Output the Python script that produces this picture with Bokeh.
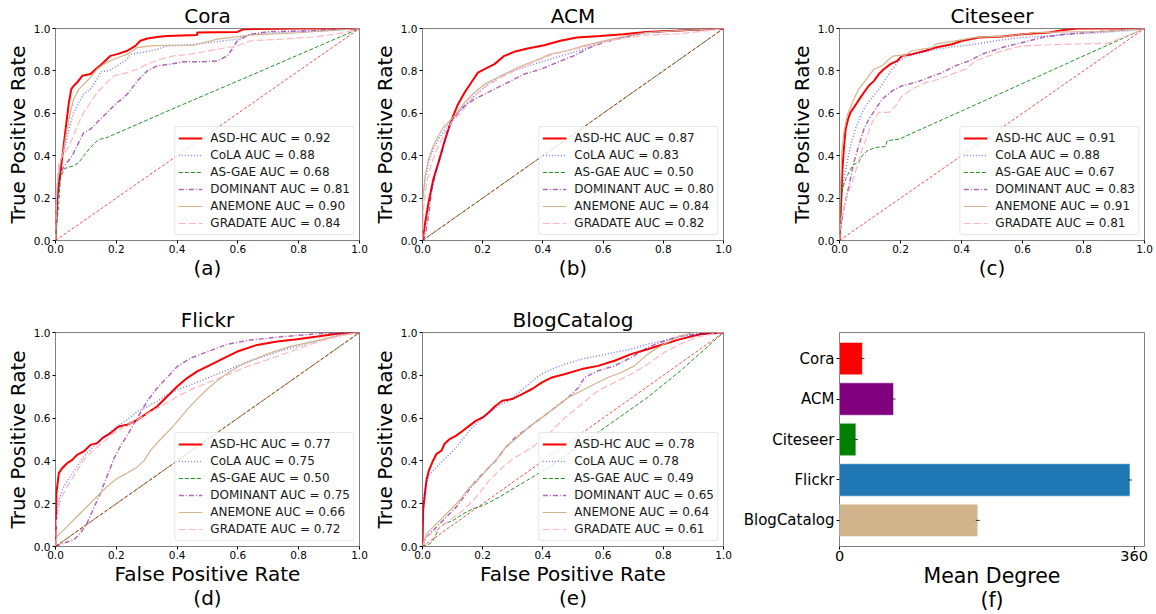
from bokeh.plotting import figure
from bokeh.models import (Range1d, FactorRange, Legend, LegendItem,
                          FixedTicker, PrintfTickFormatter, ColumnDataSource)
from bokeh.layouts import row, column
from bokeh.embed import file_html
from bokeh.resources import INLINE

FONT = "DejaVu Sans"

# ---------------- data ----------------
methods = ["ASD-HC", "CoLA", "AS-GAE", "DOMINANT", "ANEMONE", "GRADATE"]
roc_ticks = [0.0, 0.2, 0.4, 0.6, 0.8, 1.0]
chance_line = [0.0, 1.0]

cora_auc = [0.92, 0.88, 0.68, 0.81, 0.90, 0.84]
acm_auc = [0.87, 0.83, 0.50, 0.80, 0.84, 0.82]
citeseer_auc = [0.91, 0.88, 0.67, 0.83, 0.91, 0.81]
flickr_auc = [0.77, 0.75, 0.50, 0.75, 0.66, 0.72]
blog_auc = [0.78, 0.78, 0.49, 0.65, 0.64, 0.61]

# Cora
cora_asd_hc_fpr = [0.0, 0.005, 0.016, 0.027, 0.036, 0.044, 0.052, 0.06, 0.071, 0.088, 0.115, 0.132, 0.148, 0.181, 0.203, 0.236, 0.263, 0.279, 0.302, 0.334, 0.367, 0.466, 0.466, 0.598, 0.62, 0.8, 1.0]
cora_asd_hc_tpr = [0.0, 0.195, 0.32, 0.45, 0.557, 0.65, 0.714, 0.73, 0.745, 0.777, 0.785, 0.808, 0.827, 0.871, 0.879, 0.895, 0.918, 0.942, 0.953, 0.96, 0.965, 0.969, 0.981, 0.984, 0.997, 1.0, 1.0]
cora_cola_fpr = [0.0, 0.005, 0.011, 0.022, 0.033, 0.044, 0.06, 0.077, 0.093, 0.115, 0.137, 0.148, 0.175, 0.203, 0.236, 0.247, 0.29, 0.334, 0.367, 0.422, 0.477, 0.51, 0.598, 0.64, 0.7, 0.8, 0.9, 1.0]
cora_cola_tpr = [0.0, 0.148, 0.32, 0.40, 0.447, 0.525, 0.604, 0.651, 0.69, 0.714, 0.761, 0.796, 0.80, 0.824, 0.855, 0.879, 0.888, 0.902, 0.918, 0.921, 0.929, 0.934, 0.95, 0.973, 0.978, 0.985, 0.99, 1.0]
cora_as_gae_fpr = [0.0, 0.005, 0.011, 0.016, 0.027, 0.038, 0.06, 0.077, 0.093, 0.115, 0.137, 0.148, 0.17, 0.4, 0.64, 1.0]
cora_as_gae_tpr = [0.0, 0.085, 0.179, 0.289, 0.336, 0.344, 0.352, 0.368, 0.40, 0.439, 0.47, 0.478, 0.486, 0.63, 0.777, 1.0]
cora_dominant_fpr = [0.0, 0.005, 0.011, 0.022, 0.038, 0.055, 0.071, 0.093, 0.115, 0.137, 0.159, 0.181, 0.203, 0.219, 0.241, 0.269, 0.302, 0.334, 0.378, 0.422, 0.477, 0.532, 0.565, 0.581, 0.598, 0.641, 0.7, 0.85, 1.0]
cora_dominant_tpr = [0.0, 0.148, 0.289, 0.336, 0.368, 0.40, 0.447, 0.509, 0.525, 0.557, 0.588, 0.62, 0.651, 0.667, 0.698, 0.753, 0.80, 0.824, 0.832, 0.843, 0.843, 0.847, 0.871, 0.902, 0.942, 0.973, 0.985, 0.99, 1.0]
cora_anemone_fpr = [0.0, 0.003, 0.008, 0.016, 0.027, 0.038, 0.049, 0.06, 0.077, 0.093, 0.115, 0.137, 0.159, 0.192, 0.236, 0.269, 0.313, 0.367, 0.455, 0.532, 0.641, 0.8, 1.0]
cora_anemone_tpr = [0.0, 0.195, 0.289, 0.368, 0.43, 0.525, 0.604, 0.667, 0.714, 0.737, 0.769, 0.808, 0.832, 0.855, 0.879, 0.91, 0.918, 0.921, 0.921, 0.95, 0.969, 0.98, 1.0]
cora_gradate_fpr = [0.0, 0.003, 0.011, 0.022, 0.038, 0.055, 0.071, 0.093, 0.115, 0.137, 0.164, 0.192, 0.236, 0.269, 0.302, 0.345, 0.389, 0.444, 0.532, 0.598, 0.641, 0.75, 0.85, 0.95, 1.0]
cora_gradate_tpr = [0.0, 0.242, 0.368, 0.40, 0.43, 0.478, 0.541, 0.604, 0.651, 0.698, 0.737, 0.777, 0.792, 0.808, 0.832, 0.855, 0.871, 0.879, 0.902, 0.918, 0.942, 0.95, 0.96, 0.98, 1.0]

# ACM
acm_asd_hc_fpr = [0.0, 0.009, 0.02, 0.036, 0.053, 0.069, 0.086, 0.102, 0.118, 0.14, 0.162, 0.184, 0.206, 0.239, 0.272, 0.305, 0.349, 0.404, 0.458, 0.513, 0.59, 0.667, 0.743, 0.85, 1.0]
acm_asd_hc_tpr = [0.0, 0.085, 0.179, 0.289, 0.368, 0.447, 0.525, 0.588, 0.643, 0.698, 0.745, 0.792, 0.808, 0.832, 0.871, 0.89, 0.906, 0.921, 0.942, 0.958, 0.965, 0.973, 0.984, 0.99, 1.0]
acm_cola_fpr = [0.0, 0.0, 0.009, 0.02, 0.036, 0.053, 0.075, 0.096, 0.118, 0.151, 0.184, 0.217, 0.261, 0.316, 0.371, 0.425, 0.48, 0.535, 0.59, 0.645, 0.7, 0.743, 0.85, 1.0]
acm_cola_tpr = [0.0, 0.195, 0.289, 0.368, 0.43, 0.478, 0.525, 0.564, 0.604, 0.651, 0.698, 0.737, 0.777, 0.808, 0.832, 0.855, 0.879, 0.902, 0.937, 0.953, 0.969, 0.981, 0.99, 1.0]
acm_as_gae_fpr = [0.0, 1.0]
acm_as_gae_tpr = [0.0, 1.0]
acm_dominant_fpr = [0.0, 0.009, 0.02, 0.031, 0.047, 0.064, 0.08, 0.096, 0.118, 0.14, 0.173, 0.206, 0.25, 0.294, 0.338, 0.393, 0.447, 0.502, 0.557, 0.601, 0.667, 0.743, 0.85, 1.0]
acm_dominant_tpr = [0.0, 0.022, 0.116, 0.242, 0.336, 0.415, 0.509, 0.557, 0.604, 0.635, 0.667, 0.69, 0.722, 0.753, 0.785, 0.808, 0.84, 0.871, 0.91, 0.934, 0.958, 0.981, 0.99, 1.0]
acm_anemone_fpr = [0.0, 0.0, 0.009, 0.02, 0.036, 0.053, 0.069, 0.086, 0.107, 0.14, 0.173, 0.206, 0.261, 0.316, 0.371, 0.425, 0.48, 0.535, 0.59, 0.667, 0.743, 0.85, 1.0]
acm_anemone_tpr = [0.0, 0.18, 0.305, 0.384, 0.447, 0.494, 0.533, 0.557, 0.588, 0.651, 0.698, 0.737, 0.777, 0.816, 0.847, 0.879, 0.895, 0.918, 0.937, 0.962, 0.981, 0.99, 1.0]
acm_gradate_fpr = [0.0, 0.003, 0.014, 0.031, 0.053, 0.075, 0.096, 0.129, 0.162, 0.206, 0.261, 0.316, 0.371, 0.425, 0.48, 0.557, 0.645, 0.743, 0.85, 0.95, 1.0]
acm_gradate_tpr = [0.0, 0.148, 0.274, 0.368, 0.447, 0.509, 0.557, 0.604, 0.667, 0.722, 0.769, 0.808, 0.843, 0.874, 0.895, 0.921, 0.95, 0.969, 0.975, 0.99, 1.0]

# Citeseer
cite_asd_hc_fpr = [0.0, 0.003, 0.009, 0.014, 0.02, 0.028, 0.036, 0.047, 0.058, 0.069, 0.08, 0.096, 0.113, 0.129, 0.145, 0.167, 0.189, 0.205, 0.238, 0.282, 0.315, 0.369, 0.402, 0.457, 0.533, 0.599, 0.686, 0.741, 0.78, 1.0]
cite_asd_hc_tpr = [0.0, 0.085, 0.32, 0.43, 0.525, 0.572, 0.604, 0.627, 0.651, 0.675, 0.698, 0.73, 0.753, 0.785, 0.808, 0.832, 0.847, 0.871, 0.879, 0.895, 0.91, 0.926, 0.942, 0.958, 0.962, 0.973, 0.981, 0.994, 1.0, 1.0]
cite_cola_fpr = [0.0, 0.003, 0.014, 0.025, 0.036, 0.052, 0.069, 0.085, 0.107, 0.129, 0.151, 0.173, 0.195, 0.227, 0.271, 0.315, 0.38, 0.446, 0.511, 0.599, 0.686, 0.741, 0.85, 0.95, 1.0]
cite_cola_tpr = [0.0, 0.164, 0.289, 0.368, 0.447, 0.525, 0.588, 0.635, 0.675, 0.714, 0.761, 0.808, 0.847, 0.871, 0.887, 0.902, 0.915, 0.926, 0.942, 0.958, 0.965, 0.973, 0.98, 0.99, 1.0]
cite_as_gae_fpr = [0.0, 0.003, 0.009, 0.02, 0.036, 0.047, 0.063, 0.074, 0.091, 0.118, 0.151, 0.156, 0.178, 0.195, 0.45, 0.741, 1.0]
cite_as_gae_tpr = [0.0, 0.148, 0.242, 0.289, 0.336, 0.36, 0.368, 0.40, 0.423, 0.439, 0.443, 0.47, 0.475, 0.478, 0.643, 0.832, 1.0]
cite_dominant_fpr = [0.0, 0.003, 0.014, 0.031, 0.047, 0.063, 0.08, 0.096, 0.118, 0.14, 0.173, 0.205, 0.249, 0.293, 0.337, 0.38, 0.424, 0.468, 0.533, 0.599, 0.664, 0.741, 0.85, 1.0]
cite_dominant_tpr = [0.0, 0.053, 0.148, 0.258, 0.368, 0.447, 0.525, 0.572, 0.62, 0.667, 0.706, 0.73, 0.745, 0.769, 0.792, 0.824, 0.847, 0.879, 0.91, 0.934, 0.958, 0.973, 0.985, 1.0]
cite_anemone_fpr = [0.0, 0.001, 0.007, 0.014, 0.025, 0.036, 0.047, 0.063, 0.08, 0.096, 0.113, 0.14, 0.162, 0.178, 0.216, 0.238, 0.304, 0.315, 0.38, 0.446, 0.555, 0.643, 0.741, 0.87, 1.0]
cite_anemone_tpr = [0.0, 0.148, 0.40, 0.509, 0.588, 0.627, 0.667, 0.714, 0.745, 0.777, 0.808, 0.824, 0.855, 0.871, 0.874, 0.895, 0.91, 0.926, 0.942, 0.958, 0.965, 0.981, 0.984, 0.985, 1.0]
cite_gradate_fpr = [0.0, 0.003, 0.014, 0.025, 0.042, 0.058, 0.074, 0.091, 0.107, 0.129, 0.162, 0.184, 0.205, 0.238, 0.282, 0.326, 0.369, 0.413, 0.446, 0.49, 0.533, 0.599, 0.741, 0.88, 0.95, 1.0]
cite_gradate_tpr = [0.0, 0.085, 0.148, 0.211, 0.274, 0.352, 0.43, 0.494, 0.557, 0.604, 0.604, 0.635, 0.682, 0.714, 0.745, 0.761, 0.785, 0.808, 0.847, 0.871, 0.895, 0.918, 0.926, 0.93, 0.97, 1.0]

# Flickr
flickr_asd_hc_fpr = [0.0, 0.003, 0.011, 0.022, 0.038, 0.055, 0.071, 0.093, 0.115, 0.137, 0.154, 0.181, 0.208, 0.236, 0.269, 0.302, 0.334, 0.367, 0.4, 0.433, 0.466, 0.51, 0.554, 0.598, 0.663, 0.729, 0.795, 0.861, 0.927, 1.0]
flickr_asd_hc_tpr = [0.0, 0.249, 0.343, 0.366, 0.389, 0.405, 0.428, 0.444, 0.475, 0.483, 0.506, 0.53, 0.561, 0.569, 0.592, 0.623, 0.654, 0.701, 0.748, 0.787, 0.818, 0.849, 0.88, 0.911, 0.942, 0.958, 0.969, 0.981, 0.994, 1.0]
flickr_cola_fpr = [0.0, 0.003, 0.011, 0.027, 0.049, 0.071, 0.093, 0.121, 0.148, 0.175, 0.203, 0.236, 0.269, 0.302, 0.334, 0.367, 0.4, 0.444, 0.499, 0.554, 0.62, 0.685, 0.751, 0.817, 0.894, 0.948, 1.0]
flickr_cola_tpr = [0.0, 0.156, 0.218, 0.28, 0.327, 0.374, 0.421, 0.46, 0.498, 0.53, 0.561, 0.592, 0.631, 0.654, 0.678, 0.709, 0.732, 0.755, 0.787, 0.818, 0.857, 0.888, 0.919, 0.942, 0.974, 0.994, 1.0]
flickr_as_gae_fpr = [0.0, 1.0]
flickr_as_gae_tpr = [0.0, 1.0]
flickr_dominant_fpr = [0.0, 0.027, 0.06, 0.082, 0.104, 0.126, 0.148, 0.17, 0.192, 0.214, 0.236, 0.269, 0.302, 0.334, 0.367, 0.4, 0.444, 0.499, 0.565, 0.641, 0.751, 0.861, 1.0]
flickr_dominant_tpr = [0.0, 0.016, 0.031, 0.062, 0.11, 0.18, 0.25, 0.33, 0.41, 0.47, 0.52, 0.60, 0.68, 0.74, 0.79, 0.84, 0.88, 0.91, 0.945, 0.965, 0.981, 0.994, 1.0]
flickr_anemone_fpr = [0.0, 0.005, 0.038, 0.071, 0.104, 0.137, 0.17, 0.203, 0.236, 0.269, 0.291, 0.313, 0.345, 0.389, 0.433, 0.466, 0.499, 0.532, 0.565, 0.6, 0.641, 0.707, 0.773, 0.861, 0.948, 1.0]
flickr_anemone_tpr = [0.0, 0.047, 0.093, 0.14, 0.187, 0.234, 0.28, 0.319, 0.343, 0.372, 0.40, 0.45, 0.50, 0.565, 0.64, 0.69, 0.735, 0.775, 0.81, 0.84, 0.868, 0.905, 0.935, 0.962, 0.99, 1.0]
flickr_gradate_fpr = [0.0, 0.003, 0.016, 0.038, 0.066, 0.093, 0.126, 0.159, 0.192, 0.225, 0.269, 0.313, 0.356, 0.4, 0.455, 0.51, 0.565, 0.631, 0.696, 0.773, 0.85, 0.927, 1.0]
flickr_gradate_tpr = [0.0, 0.125, 0.218, 0.28, 0.343, 0.405, 0.452, 0.491, 0.53, 0.561, 0.592, 0.631, 0.662, 0.701, 0.74, 0.771, 0.802, 0.841, 0.872, 0.911, 0.95, 0.981, 1.0]

# BlogCatalog
blog_asd_hc_fpr = [0.0, 0.002, 0.008, 0.013, 0.021, 0.035, 0.046, 0.063, 0.073, 0.09, 0.112, 0.134, 0.156, 0.178, 0.2, 0.221, 0.243, 0.265, 0.298, 0.331, 0.364, 0.397, 0.43, 0.474, 0.529, 0.583, 0.638, 0.693, 0.748, 0.803, 0.857, 0.923, 1.0]
blog_asd_hc_tpr = [0.0, 0.168, 0.246, 0.308, 0.355, 0.401, 0.432, 0.448, 0.479, 0.502, 0.518, 0.541, 0.565, 0.588, 0.603, 0.627, 0.658, 0.681, 0.689, 0.712, 0.736, 0.767, 0.79, 0.806, 0.829, 0.844, 0.868, 0.899, 0.922, 0.946, 0.969, 0.992, 1.0]
blog_cola_fpr = [0.0, 0.002, 0.011, 0.024, 0.046, 0.068, 0.09, 0.112, 0.134, 0.156, 0.189, 0.221, 0.254, 0.287, 0.32, 0.353, 0.386, 0.43, 0.474, 0.529, 0.583, 0.638, 0.693, 0.748, 0.803, 0.857, 0.923, 1.0]
blog_cola_tpr = [0.0, 0.199, 0.292, 0.339, 0.37, 0.401, 0.432, 0.463, 0.502, 0.541, 0.588, 0.627, 0.658, 0.681, 0.72, 0.759, 0.798, 0.829, 0.852, 0.876, 0.891, 0.907, 0.922, 0.946, 0.961, 0.98, 0.992, 1.0]
blog_as_gae_fpr = [0.0, 0.024, 0.035, 0.046, 0.057, 0.073, 0.101, 0.134, 0.167, 0.2, 0.254, 0.309, 0.364, 0.419, 0.529, 0.638, 0.748, 0.857, 1.0]
blog_as_gae_tpr = [0.0, 0.012, 0.028, 0.059, 0.09, 0.106, 0.121, 0.152, 0.176, 0.191, 0.23, 0.277, 0.323, 0.37, 0.479, 0.588, 0.697, 0.821, 1.0]
blog_dominant_fpr = [0.0, 0.013, 0.046, 0.079, 0.112, 0.145, 0.178, 0.211, 0.243, 0.276, 0.309, 0.353, 0.397, 0.441, 0.485, 0.518, 0.539, 0.583, 0.638, 0.693, 0.748, 0.803, 0.857, 0.923, 1.0]
blog_dominant_tpr = [0.0, 0.044, 0.09, 0.137, 0.184, 0.246, 0.308, 0.355, 0.401, 0.463, 0.51, 0.557, 0.603, 0.65, 0.697, 0.743, 0.79, 0.821, 0.844, 0.883, 0.93, 0.961, 0.984, 0.995, 1.0]
blog_anemone_fpr = [0.0, 0.013, 0.046, 0.09, 0.123, 0.156, 0.178, 0.211, 0.243, 0.276, 0.309, 0.353, 0.397, 0.441, 0.485, 0.529, 0.572, 0.616, 0.66, 0.704, 0.748, 0.803, 0.857, 0.901, 1.0]
blog_anemone_tpr = [0.0, 0.059, 0.106, 0.168, 0.215, 0.277, 0.3, 0.355, 0.401, 0.463, 0.502, 0.557, 0.603, 0.65, 0.697, 0.728, 0.759, 0.79, 0.813, 0.844, 0.899, 0.946, 0.984, 1.0, 1.0]
blog_gradate_fpr = [0.0, 0.013, 0.046, 0.09, 0.134, 0.178, 0.221, 0.265, 0.309, 0.364, 0.419, 0.474, 0.529, 0.583, 0.638, 0.693, 0.748, 0.803, 0.857, 0.912, 0.967, 1.0]
blog_gradate_tpr = [0.0, 0.044, 0.075, 0.121, 0.168, 0.23, 0.308, 0.37, 0.417, 0.463, 0.526, 0.603, 0.666, 0.728, 0.767, 0.806, 0.852, 0.907, 0.946, 0.977, 0.995, 1.0]

# Mean degree bar chart
degree_names = ["Cora", "ACM", "Citeseer", "Flickr", "BlogCatalog"]
mean_degree = [28, 66, 20, 355, 169]
degree_colors = ["#ff0000", "#800080", "#008000", "#1f77b4", "#d2b48c"]
degree_ticks = [0, 360]

# ---------------- styles ----------------
line_color = ["#ff0000", "#0000ff", "#008000", "#800080", "#d2b48c", "#ffb6c1"]
line_width = [2.0, 1.5, 1.0, 1.5, 1.2, 1.2]
line_alpha = [1.0, 0.5, 0.85, 0.6, 1.0, 1.0]
line_dash = ["solid", "1 2", "4 2", "5 2 1 2", "solid", "7 3"]


def style_axis(ax, tick_size="10.5px", label_size="20px"):
    ax.major_label_text_font = FONT
    ax.major_label_text_font_size = tick_size
    ax.major_label_text_color = "#000000"
    ax.major_tick_in = 0
    ax.major_tick_out = 3
    ax.major_tick_line_color = "#000000"
    ax.minor_tick_line_color = None
    ax.axis_line_color = None
    ax.major_label_standoff = 2
    ax.axis_label_standoff = 1
    ax.axis_label_text_font = FONT
    ax.axis_label_text_font_size = label_size
    ax.axis_label_text_font_style = "normal"
    ax.axis_label_text_color = "#000000"
    ax.axis_label_text_line_height = 1.0


def roc_fig(title, xlabel, curves, aucs, width, height, bl, br, bt, bb):
    p = figure(width=width, height=height, x_range=Range1d(0, 1), y_range=Range1d(0, 1),
               output_backend="svg", toolbar_location=None, title=title,
               min_border_left=bl, min_border_right=br, min_border_top=bt, min_border_bottom=bb)
    p.title.text_font = FONT
    p.title.text_font_size = "20px"
    p.title.text_font_style = "normal"
    p.title.text_color = "#000000"
    p.title.align = "center"
    p.title.standoff = 1
    p.title.offset = 0
    p.grid.visible = False
    p.outline_line_color = "#808080"
    p.outline_line_width = 1
    p.outline_line_alpha = 1.0
    for ax in (p.xaxis[0], p.yaxis[0]):
        ax.ticker = FixedTicker(ticks=roc_ticks)
        ax.formatter = PrintfTickFormatter(format="%.1f")
        style_axis(ax)
    p.xaxis[0].axis_label = xlabel
    p.xaxis[0].major_label_standoff = 1
    p.xaxis[0].axis_label_standoff = 0
    p.yaxis[0].axis_label = "True Positive Rate"
    items = []
    for i, (fpr, tpr) in enumerate(curves):
        r = p.line(fpr, tpr, line_color=line_color[i], line_width=line_width[i],
                   line_alpha=line_alpha[i], line_dash=line_dash[i])
        items.append(LegendItem(label=f"{methods[i]} AUC = {aucs[i]:.2f}", renderers=[r]))
    p.line(chance_line, chance_line, line_color="#ff0000", line_alpha=0.7,
           line_width=1, line_dash="3 2")
    leg = Legend(items=items, location="bottom_right")
    leg.label_text_font = FONT
    leg.label_text_font_size = "12px"
    leg.label_text_color = "#1a1a1a"
    leg.glyph_width = 24
    leg.glyph_height = 16
    leg.label_height = 16
    leg.spacing = 1
    leg.padding = 3
    leg.margin = 5
    leg.label_standoff = 8
    leg.border_line_color = "#d0d0d0"
    leg.border_line_width = 1
    leg.background_fill_alpha = 0.8
    if "border_radius" in Legend.properties():
        leg.border_radius = 3
    p.add_layout(leg)
    return p


cora_curves = [(cora_asd_hc_fpr, cora_asd_hc_tpr), (cora_cola_fpr, cora_cola_tpr),
               (cora_as_gae_fpr, cora_as_gae_tpr), (cora_dominant_fpr, cora_dominant_tpr),
               (cora_anemone_fpr, cora_anemone_tpr), (cora_gradate_fpr, cora_gradate_tpr)]
acm_curves = [(acm_asd_hc_fpr, acm_asd_hc_tpr), (acm_cola_fpr, acm_cola_tpr),
              (acm_as_gae_fpr, acm_as_gae_tpr), (acm_dominant_fpr, acm_dominant_tpr),
              (acm_anemone_fpr, acm_anemone_tpr), (acm_gradate_fpr, acm_gradate_tpr)]
cite_curves = [(cite_asd_hc_fpr, cite_asd_hc_tpr), (cite_cola_fpr, cite_cola_tpr),
               (cite_as_gae_fpr, cite_as_gae_tpr), (cite_dominant_fpr, cite_dominant_tpr),
               (cite_anemone_fpr, cite_anemone_tpr), (cite_gradate_fpr, cite_gradate_tpr)]
flickr_curves = [(flickr_asd_hc_fpr, flickr_asd_hc_tpr), (flickr_cola_fpr, flickr_cola_tpr),
                 (flickr_as_gae_fpr, flickr_as_gae_tpr), (flickr_dominant_fpr, flickr_dominant_tpr),
                 (flickr_anemone_fpr, flickr_anemone_tpr), (flickr_gradate_fpr, flickr_gradate_tpr)]
blog_curves = [(blog_asd_hc_fpr, blog_asd_hc_tpr), (blog_cola_fpr, blog_cola_tpr),
               (blog_as_gae_fpr, blog_as_gae_tpr), (blog_dominant_fpr, blog_dominant_tpr),
               (blog_anemone_fpr, blog_anemone_tpr), (blog_gradate_fpr, blog_gradate_tpr)]

f1 = roc_fig("Cora", "(a)", cora_curves, cora_auc, 369, 304, 55, 10, 28, 64)
f2 = roc_fig("ACM", "(b)", acm_curves, acm_auc, 374, 304, 50, 20, 28, 64)
f3 = roc_fig("Citeseer", "(c)", cite_curves, citeseer_auc, 411, 304, 96, 10, 28, 64)
f4 = roc_fig("Flickr", "False Positive Rate\n(d)", flickr_curves, flickr_auc, 369, 310, 55, 10, 28, 68)
f5 = roc_fig("BlogCatalog", "False Positive Rate\n(e)", blog_curves, blog_auc, 370, 310, 50, 16, 28, 68)

# ---------------- bar chart (f) ----------------
src = ColumnDataSource(dict(name=degree_names, deg=mean_degree, color=degree_colors))
f6 = figure(width=415, height=310, output_backend="svg", toolbar_location=None,
            x_range=Range1d(0, max(mean_degree) * 1.05),
            y_range=FactorRange(factors=list(reversed(degree_names)), range_padding=0.058),
            min_border_left=100, min_border_right=10, min_border_top=26, min_border_bottom=68)
f6.grid.visible = False
f6.outline_line_color = "#808080"
f6.outline_line_width = 1
f6.hbar(y="name", left=0, right="deg", height=0.8, fill_color="color",
        line_color="#ffffff", line_alpha=0.5, source=src)
f6.scatter(x="deg", y="name", marker="dash", size=4, line_color="#333333",
           line_width=1, source=src)
style_axis(f6.xaxis[0], tick_size="14.5px", label_size="20.5px")
style_axis(f6.yaxis[0], tick_size="15px")
f6.xaxis[0].ticker = FixedTicker(ticks=degree_ticks)
f6.xaxis[0].axis_label = "Mean Degree\n(f)"
f6.xaxis[0].major_label_standoff = 1
f6.xaxis[0].axis_label_standoff = 0
f6.yaxis[0].major_label_standoff = 2

layout = column(row(f1, f2, f3), row(f4, f5, f6))

with open("out.html", "w") as fh:
    fh.write(file_html(layout, INLINE))
